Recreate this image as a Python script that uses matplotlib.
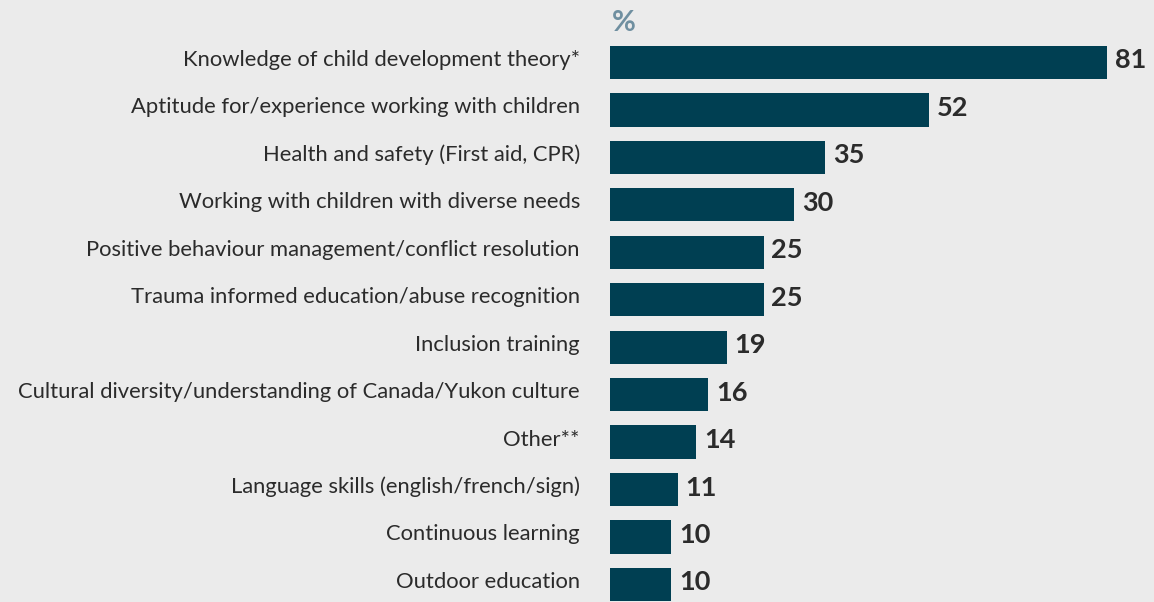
import matplotlib
matplotlib.use("Agg")
import matplotlib.pyplot as plt

categories = [
    "Knowledge of child development theory*",
    "Aptitude for/experience working with children",
    "Health and safety (First aid, CPR)",
    "Working with children with diverse needs",
    "Positive behaviour management/conflict resolution",
    "Trauma informed education/abuse recognition",
    "Inclusion training",
    "Cultural diversity/understanding of Canada/Yukon culture",
    "Other**",
    "Language skills (english/french/sign)",
    "Continuous learning",
    "Outdoor education",
]
values = [81, 52, 35, 30, 25, 25, 19, 16, 14, 11, 10, 10]

BG = "#ebebeb"
BAR = "#003f52"
TEXT = "#2b2b2b"
UNIT = "#6f8fa0"

plt.rcParams["font.family"] = ["Lato", "DejaVu Sans"]

W, H = 1154, 602
fig = plt.figure(figsize=(W / 100, H / 100), dpi=100, facecolor=BG)
left_px = 610
ax = fig.add_axes([left_px / W, 0, 1 - left_px / W, 1])
ax.set_facecolor(BG)

px_per_unit = 6.14
row_px = 47.45
first_center = 62.5

y = list(range(len(categories)))
ax.barh(y, values, height=0.70, color=BAR, left=0)
ax.set_xlim(0, (W - left_px) / px_per_unit)
ax.set_ylim((H - first_center) / row_px, -first_center / row_px)

for yi, v, lab in zip(y, values, categories):
    ax.annotate(f"{v}", xy=(v, yi), xytext=(8, -6), textcoords="offset pixels",
                va="baseline", ha="left", fontsize=19.5, fontweight="bold",
                color=TEXT, annotation_clip=False)
    ax.annotate(lab, xy=(0, yi), xytext=(-30, -3.5), textcoords="offset pixels",
                va="baseline", ha="right", fontsize=15.8, color=TEXT,
                annotation_clip=False)

# unit marker above the bars
ax.annotate("%", xy=(0, -first_center / row_px), xytext=(2, -31),
            textcoords="offset pixels", va="baseline", ha="left",
            fontsize=21, fontweight="bold", color=UNIT, annotation_clip=False)

ax.axis("off")
fig.savefig("out.png", dpi=100, facecolor=BG)
